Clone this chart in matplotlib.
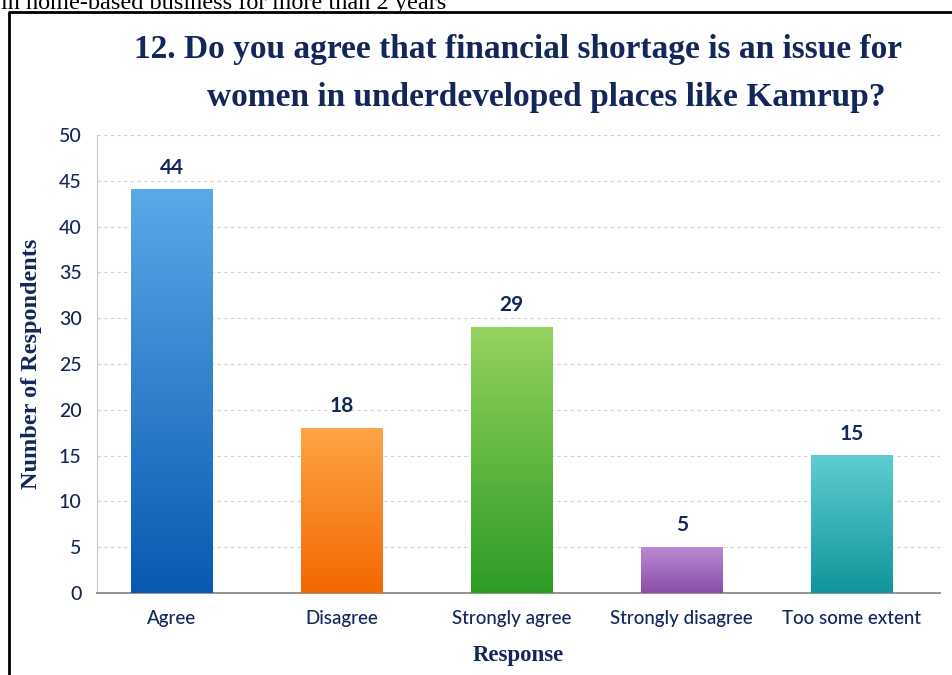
import numpy as np
import matplotlib.pyplot as plt
from matplotlib.colors import LinearSegmentedColormap
from matplotlib.lines import Line2D

categories = ['Agree', 'Disagree', 'Strongly agree', 'Strongly disagree', 'Too some extent']
counts = [44, 18, 29, 5, 15]
top_colors = ['#5aa9e8', '#ffa445', '#95d35e', '#b98ad2', '#5fcdd2']
bottom_colors = ['#0a58b2', '#f26800', '#2c9b25', '#8a4ea8', '#10959a']

navy = '#14275a'
W, H = 952, 675
fig = plt.figure(figsize=(W / 100, H / 100), dpi=100)
ax = fig.add_axes([97 / W, 1 - 593 / H, (940 - 97) / W, (593 - 135) / H])

width = 0.48
x = np.arange(len(categories))
grad = np.linspace(0, 1, 256).reshape(-1, 1)
for xi, v, ct, cb in zip(x, counts, top_colors, bottom_colors):
    cmap = LinearSegmentedColormap.from_list('g', [cb, ct])
    ax.imshow(grad, cmap=cmap, aspect='auto', origin='lower',
              extent=(xi - width / 2, xi + width / 2, 0, v), zorder=3)
    ax.text(xi, v + 1.3, str(v), ha='center', va='bottom', fontsize=15,
            fontweight='bold', color=navy, family='Lato')

ax.set_xlim(-0.44, 4.52)
ax.set_ylim(0, 50)
ax.set_yticks(range(0, 51, 5))
ax.set_xticks(x)
ax.set_xticklabels(categories)
ax.grid(axis='y', linestyle=(0, (3, 3)), color='#d0d0d0', linewidth=0.8, zorder=0)
ax.set_axisbelow(True)
for s in ['top', 'right']:
    ax.spines[s].set_visible(False)
ax.spines['left'].set_color('#c8c8c8')
ax.spines['bottom'].set_color('#808080')
ax.spines['bottom'].set_linewidth(1.2)
ax.tick_params(length=0, labelsize=13.5, labelcolor=navy)
ax.tick_params(axis='y', pad=11, labelsize=14)
ax.tick_params(axis='x', pad=12)
for lab in ax.get_xticklabels() + ax.get_yticklabels():
    lab.set_family('Lato')
    lab.set_fontweight('medium')

ax.set_ylabel('Number of Respondents', family='Liberation Serif', fontweight='bold',
              fontsize=17.5, color=navy, labelpad=12)
ax.set_xlabel('Response', family='Liberation Serif', fontweight='bold',
              fontsize=16.5, color=navy, labelpad=13)

fig.text(518 / W, 1 - 58 / H, '12. Do you agree that financial shortage is an issue for',
         ha='center', va='baseline', family='Liberation Serif', fontweight='bold',
         fontsize=24, color=navy)
fig.text(546 / W, 1 - 106 / H, 'women in underdeveloped places like Kamrup?',
         ha='center', va='baseline', family='Liberation Serif', fontweight='bold',
         fontsize=24, color=navy)

# cropped caption from the page above the chart
fig.text(1 / W, 1 - 9 / H, 'in home-based business for more than 2 years',
         ha='left', va='baseline', family='Liberation Serif', fontsize=17.5, color='black')

# frame around the chart
fig.add_artist(Line2D([9 / W, 9 / W, 1.0], [0, 1 - 12 / H, 1 - 12 / H],
                      transform=fig.transFigure, color='black', linewidth=2))

fig.savefig('out.png', dpi=100)
